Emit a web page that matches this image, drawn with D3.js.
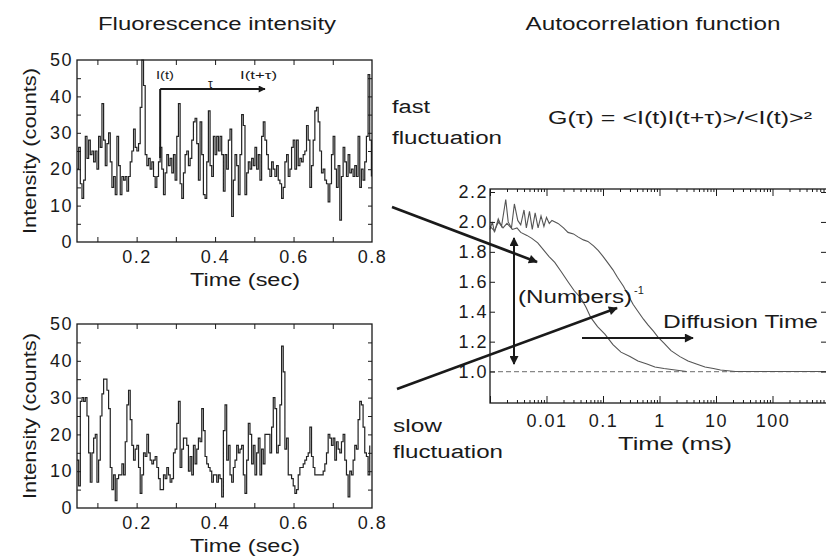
<!DOCTYPE html>
<html>
<head>
<meta charset="utf-8">
<script src="https://cdn.jsdelivr.net/npm/d3@7"></script>
<style>
  body { margin: 0; background: #fff; }
  svg { display: block; font-family: "Liberation Sans", Arial, sans-serif; }
</style>
</head>
<body>
<svg id="chart" width="826" height="559"></svg>
<script>
// photon count traces, one value per time bin
const traceStart = 0.048;
const binWidth = 0.00424;

const fastCounts = [
  20,26,16,12,17,29,23,28,24,25,22,25,20,29,26,38,28,21,27,30,22,15,18,13,29,21,13,18,17,18,
  14,18,22,25,31,26,25,27,37,50,43,24,21,23,20,22,18,15,18,22,26,20,13,19,24,21,23,19,24,
  17,29,38,16,12,19,24,25,21,23,28,33,34,27,17,33,24,13,12,22,36,21,18,29,24,29,25,29,24,14,
  24,20,28,31,7,17,24,21,13,24,35,32,13,19,22,20,23,21,26,20,24,17,29,33,28,24,20,18,22,
  20,18,21,17,16,12,15,22,24,18,20,26,28,20,28,21,23,22,24,25,32,28,15,21,28,36,37,33,25,19,
  20,17,16,11,16,24,29,20,15,21,6,18,26,22,18,24,19,20,18,21,18,29,15,20,17,22,29,46,28,18
];

const slowCounts = [
  13,6,29,30,29,30,25,15,7,15,19,20,7,13,25,31,35,35,32,27,11,5,9,2,8,9,9,12,9,18,
  28,32,24,17,13,16,17,11,4,9,15,14,20,15,13,12,13,14,11,8,5,5,9,8,11,9,7,8,15,16,
  23,29,11,16,19,19,17,10,14,9,17,12,16,19,18,27,21,14,12,11,10,7,9,9,7,9,8,3,21,
  28,13,17,9,7,11,13,17,15,16,17,9,4,13,23,20,12,17,9,15,19,9,16,12,20,20,20,15,22,30,
  27,15,17,28,44,37,16,19,9,9,8,6,4,5,9,11,11,12,13,14,15,22,14,11,9,9,9,9,9,10,
  12,15,20,19,17,19,13,18,16,15,18,20,13,9,3,10,9,13,17,16,24,29,28,22,15,14,9,17
];

// autocorrelation curves: [lag time (ms), G(tau)]
const corrFast = [
  [0.001,1.97],[0.0012,1.94],[0.0014,2.0],[0.0017,1.96],[0.002,1.99],[0.0025,1.95],
  [0.003,1.96],[0.0035,1.93],[0.0045,1.91],[0.0055,1.89],[0.007,1.86],[0.009,1.81],
  [0.011,1.77],[0.014,1.73],[0.018,1.67],[0.024,1.60],[0.031,1.54],[0.041,1.49],
  [0.05,1.43],[0.061,1.36],[0.08,1.30],[0.108,1.25],[0.15,1.18],[0.208,1.13],
  [0.3,1.10],[0.415,1.07],[0.6,1.05],[0.83,1.03],[1.2,1.02],[1.9,1.01],[3,1.0]
];
const corrSlow = [
  [0.001,1.95],[0.0011,2.0],[0.0012,1.93],[0.0014,2.02],[0.0016,1.97],[0.0019,2.15],
  [0.0021,2.0],[0.0024,1.96],[0.0027,2.12],[0.0031,2.01],[0.0035,1.98],[0.004,2.08],
  [0.0044,1.96],[0.005,2.07],[0.0056,1.95],[0.0063,2.06],[0.0071,1.96],[0.008,2.04],
  [0.009,1.97],[0.01,2.03],[0.0112,1.99],[0.0125,2.01],[0.016,1.99],[0.02,1.96],
  [0.024,1.93],[0.03,1.92],[0.036,1.90],[0.045,1.88],[0.054,1.87],[0.068,1.84],
  [0.082,1.81],[0.1,1.77],[0.12,1.73],[0.15,1.68],[0.18,1.63],[0.23,1.57],[0.28,1.51],
  [0.34,1.45],[0.42,1.40],[0.52,1.35],[0.63,1.31],[0.78,1.27],[0.94,1.23],[1.2,1.19],
  [1.6,1.14],[2.3,1.10],[3.2,1.07],[4.5,1.05],[6.4,1.03],[9,1.02],[12,1.01],[22,1.0],[1000,1.0]
];

// ticks
const timeTicks = [0.1,0.2,0.3,0.4,0.5,0.6,0.7];
const timeLabels = [0.2,0.4,0.6,0.8];
const countTicks = [5,10,15,20,25,30,35,40,45];
const countLabels = [0,10,20,30,40,50];
const gLabels = [1.0,1.2,1.4,1.6,1.8,2.0,2.2];
const lagLabels = [0.01,0.1,1,10,100];

const svg = d3.select("#chart");
const ink = "#1a1a1a";

function addText(x, y, str, size, opts = {}) {
  const t = svg.append("text")
    .attr("x", x).attr("y", y)
    .attr("font-size", size)
    .attr("fill", ink)
    .text(str);
  if (opts.anchor) t.attr("text-anchor", opts.anchor);
  if (opts.len) t.attr("textLength", opts.len).attr("lengthAdjust", "spacingAndGlyphs");
  if (opts.rotate) t.attr("transform", `rotate(-90, ${x}, ${y})`);
  return t;
}

// the tick numbers in the picture are wide, so spread them a little
function styleAxis(g) {
  g.select(".domain").remove();
  g.selectAll("line").attr("stroke", ink);
  g.selectAll("text").attr("fill", ink).attr("font-size", 18)
    .attr("letter-spacing", "1.5px")
    .attr("font-family", '"Liberation Sans", Arial, sans-serif');
}

// one intensity trace panel
function drawTrace(counts, box) {
  const x = d3.scaleLinear().domain([0.048, 0.8]).range([box.left, box.right]);
  const y = d3.scaleLinear().domain([0, 50]).range([box.bottom, box.top]);
  const g = svg.append("g");

  // trace
  const line = d3.line()
    .x((d, i) => x(traceStart + i * binWidth))
    .y(d => y(d))
    .curve(d3.curveStepAfter);
  g.append("path").datum(counts)
    .attr("d", line)
    .attr("fill", "none")
    .attr("stroke", "#222")
    .attr("stroke-width", 1.2);

  // minor ticks all round, pointing inward
  g.append("g").attr("transform", `translate(0,${box.bottom})`)
    .call(d3.axisBottom(x).tickValues(timeTicks).tickSize(-5).tickFormat(""))
    .call(styleAxis);
  g.append("g").attr("transform", `translate(0,${box.top})`)
    .call(d3.axisTop(x).tickValues(timeTicks).tickSize(-5).tickFormat(""))
    .call(styleAxis);
  g.append("g").attr("transform", `translate(${box.left},0)`)
    .call(d3.axisLeft(y).tickValues(countTicks).tickSize(-4).tickFormat(""))
    .call(styleAxis);
  g.append("g").attr("transform", `translate(${box.right},0)`)
    .call(d3.axisRight(y).tickValues(countTicks).tickSize(-4).tickFormat(""))
    .call(styleAxis);

  // labelled axes
  g.append("g").attr("transform", `translate(0,${box.bottom})`)
    .call(d3.axisBottom(x).tickValues(timeLabels).tickSize(0).tickPadding(8).tickFormat(d3.format(".1f")))
    .call(styleAxis);
  g.append("g").attr("transform", `translate(${box.left},0)`)
    .call(d3.axisLeft(y).tickValues(countLabels).tickSize(0).tickPadding(4))
    .call(styleAxis);

  g.append("rect")
    .attr("x", box.left).attr("y", box.top)
    .attr("width", box.right - box.left).attr("height", box.bottom - box.top)
    .attr("fill", "none").attr("stroke", ink).attr("stroke-width", 1.3);

  addText(36, (box.top + box.bottom) / 2, "Intensity (counts)", 18, { anchor: "middle", len: 166, rotate: true });
  addText(245, box.bottom + 44, "Time (sec)", 18, { anchor: "middle", len: 110 });
  return { x, y };
}

const topBox = { left: 77, right: 372, top: 60, bottom: 242 };
const botBox = { left: 77, right: 372, top: 324, bottom: 508 };
const topScales = drawTrace(fastCounts, topBox);
drawTrace(slowCounts, botBox);

// autocorrelation panel
const cBox = { left: 490, right: 829, top: 189, bottom: 403 };
const lx = d3.scaleLog().domain([0.001, 1000]).range([cBox.left, cBox.right]);
const gy = d3.scaleLinear().domain([0.79, 2.22]).range([cBox.bottom, cBox.top]);
const cg = svg.append("g");

cg.append("line")
  .attr("x1", lx(0.001)).attr("x2", lx(1000))
  .attr("y1", gy(1)).attr("y2", gy(1))
  .attr("stroke", "#888").attr("stroke-width", 1.2).attr("stroke-dasharray", "5,3");

const cLine = d3.line().x(d => lx(d[0])).y(d => gy(d[1]));
[corrFast, corrSlow].forEach(c => {
  cg.append("path").datum(c)
    .attr("d", cLine)
    .attr("fill", "none")
    .attr("stroke", "#555")
    .attr("stroke-width", 1.1);
});

const decades = [0.001,0.01,0.1,1,10,100,1000];
const minorLags = lx.ticks().filter(v => !decades.some(d => Math.abs(d - v) / d < 1e-6));
[[d3.axisBottom, cBox.bottom], [d3.axisTop, cBox.top]].forEach(([ax, pos]) => {
  cg.append("g").attr("transform", `translate(0,${pos})`)
    .call(ax(lx).tickValues(decades).tickSize(-7).tickFormat(""))
    .call(styleAxis);
  cg.append("g").attr("transform", `translate(0,${pos})`)
    .call(ax(lx).tickValues(minorLags).tickSize(-3).tickFormat(""))
    .call(styleAxis);
});
cg.append("g").attr("transform", `translate(0,${cBox.bottom})`)
  .call(d3.axisBottom(lx).tickValues(lagLabels).tickSize(0).tickPadding(11).tickFormat(d => String(d)))
  .call(styleAxis);
cg.append("g").attr("transform", `translate(${cBox.left},0)`)
  .call(d3.axisLeft(gy).tickValues(gLabels).tickSize(-5).tickPadding(2).tickFormat(d3.format(".1f")))
  .call(styleAxis);
cg.append("g").attr("transform", `translate(${cBox.right},0)`)
  .call(d3.axisRight(gy).tickValues(gLabels).tickSize(-8).tickFormat(""))
  .call(styleAxis);
cg.append("rect")
  .attr("x", cBox.left).attr("y", cBox.top)
  .attr("width", cBox.right - cBox.left).attr("height", cBox.bottom - cBox.top)
  .attr("fill", "none").attr("stroke", ink).attr("stroke-width", 1.3);

// titles and notes
addText(217, 30, "Fluorescence intensity", 18, { anchor: "middle", len: 238 });
addText(653, 30, "Autocorrelation function", 18, { anchor: "middle", len: 255 });
addText(548, 124, "G(\u03c4) = <I(t)I(t+\u03c4)>/<I(t)>\u00b2", 18, { len: 264 });
addText(392, 113, "fast", 18, { len: 38 });
addText(392, 144, "fluctuation", 18, { len: 110 });
addText(393, 432, "slow", 18, { len: 49 });
addText(393, 458, "fluctuation", 18, { len: 110 });
addText(675, 450, "Time  (ms)", 18, { anchor: "middle", len: 114 });
addText(518, 303, "(Numbers)", 18, { len: 114 });
addText(634, 294, "-1", 11);
addText(663, 328, "Diffusion Time", 18, { len: 155 });
addText(156, 79, "I(t)", 11, { len: 18 });
addText(240, 79, "I(t+\u03c4)", 11, { len: 37 });
addText(208, 88, "\u03c4", 12);

// arrows
const defs = svg.append("defs");
defs.append("marker")
  .attr("id", "head")
  .attr("viewBox", "0 0 10 10")
  .attr("refX", 9).attr("refY", 5)
  .attr("markerWidth", 14).attr("markerHeight", 9)
  .attr("markerUnits", "userSpaceOnUse")
  .attr("orient", "auto-start-reverse")
  .append("path").attr("d", "M0,0 L10,5 L0,10 z").attr("fill", ink);
defs.append("marker")
  .attr("id", "headSmall")
  .attr("viewBox", "0 0 10 10")
  .attr("refX", 9).attr("refY", 5)
  .attr("markerWidth", 10).attr("markerHeight", 7)
  .attr("markerUnits", "userSpaceOnUse")
  .attr("orient", "auto-start-reverse")
  .append("path").attr("d", "M0,0 L10,5 L0,10 z").attr("fill", ink);

function arrow(x1, y1, x2, y2, w, both, marker = "head") {
  const l = svg.append("line")
    .attr("x1", x1).attr("y1", y1).attr("x2", x2).attr("y2", y2)
    .attr("stroke", ink).attr("stroke-width", w)
    .attr("marker-end", `url(#${marker})`);
  if (both) l.attr("marker-start", `url(#${marker})`);
}

arrow(392, 207, 537, 262, 2.6);
arrow(397, 389, 617, 308, 2.6);
arrow(514, 238, 514, 364, 2, true);
arrow(582, 338, 693, 338, 2.2);

// tau marker in the top trace
const tx0 = topScales.x(0.26);
svg.append("line")
  .attr("x1", tx0).attr("x2", tx0).attr("y1", 89).attr("y2", 158)
  .attr("stroke", ink).attr("stroke-width", 2);
arrow(tx0, 89, 265, 89, 2, false, "headSmall");
</script>
</body>
</html>
